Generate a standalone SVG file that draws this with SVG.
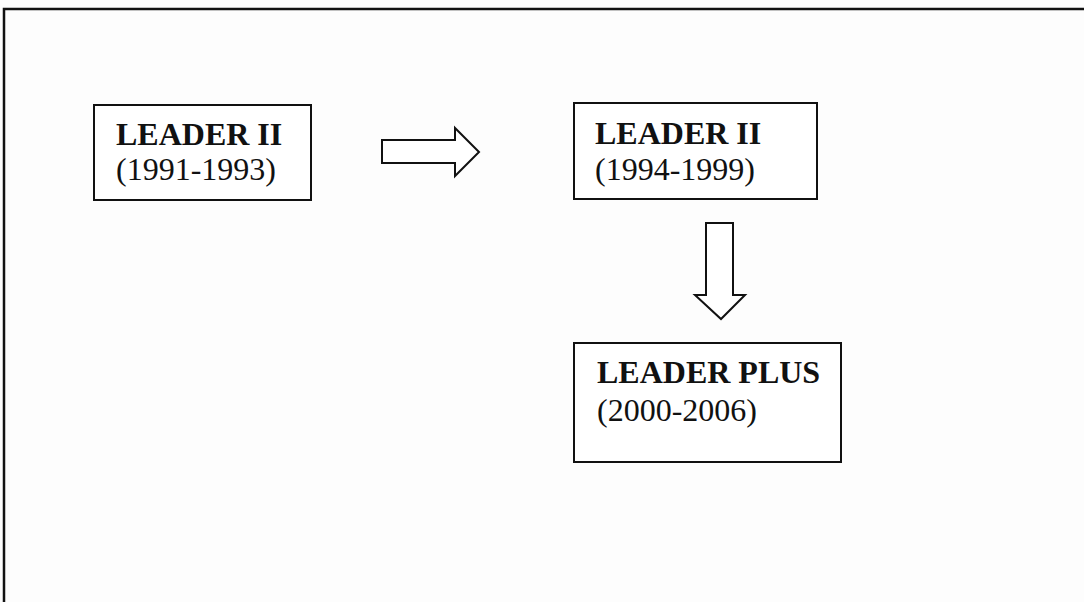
<svg xmlns="http://www.w3.org/2000/svg" width="1084" height="602" viewBox="0 0 1084 602">
<style>
.box{fill:#fff;stroke:#111;stroke-width:2}
.arr{fill:#fff;stroke:#111;stroke-width:2;stroke-linejoin:miter}
.b{font-family:"Liberation Serif",serif;font-weight:bold;font-size:32px;fill:#111}
.r{font-family:"Liberation Serif",serif;font-size:32px;fill:#111}
</style>
<rect width="1084" height="602" fill="#fdfdfd"/>
<path d="M4,602 V9 H1084" fill="none" stroke="#111" stroke-width="2.5"/>
<g id="node1">
<rect class="box" x="94" y="105" width="217" height="95"/>
<text class="b" x="116" y="145">LEADER II</text>
<text class="r" x="116" y="180">(1991-1993)</text>
</g>
<g id="node2">
<rect class="box" x="574" y="103" width="243" height="96"/>
<text class="b" x="595" y="144">LEADER II</text>
<text class="r" x="595" y="180">(1994-1999)</text>
</g>
<g id="node3">
<rect class="box" x="574" y="343" width="267" height="119"/>
<text class="b" x="597" y="383">LEADER PLUS</text>
<text class="r" x="597" y="421">(2000-2006)</text>
</g>
<g id="connectors">
<path class="arr" d="M382,140 H455 V128 L479,152 L455,176 V163 H382 Z"/>
<path class="arr" d="M706,223 H733 V295 H745 L721,319 L695,295 H706 Z"/>
</g>
</svg>
